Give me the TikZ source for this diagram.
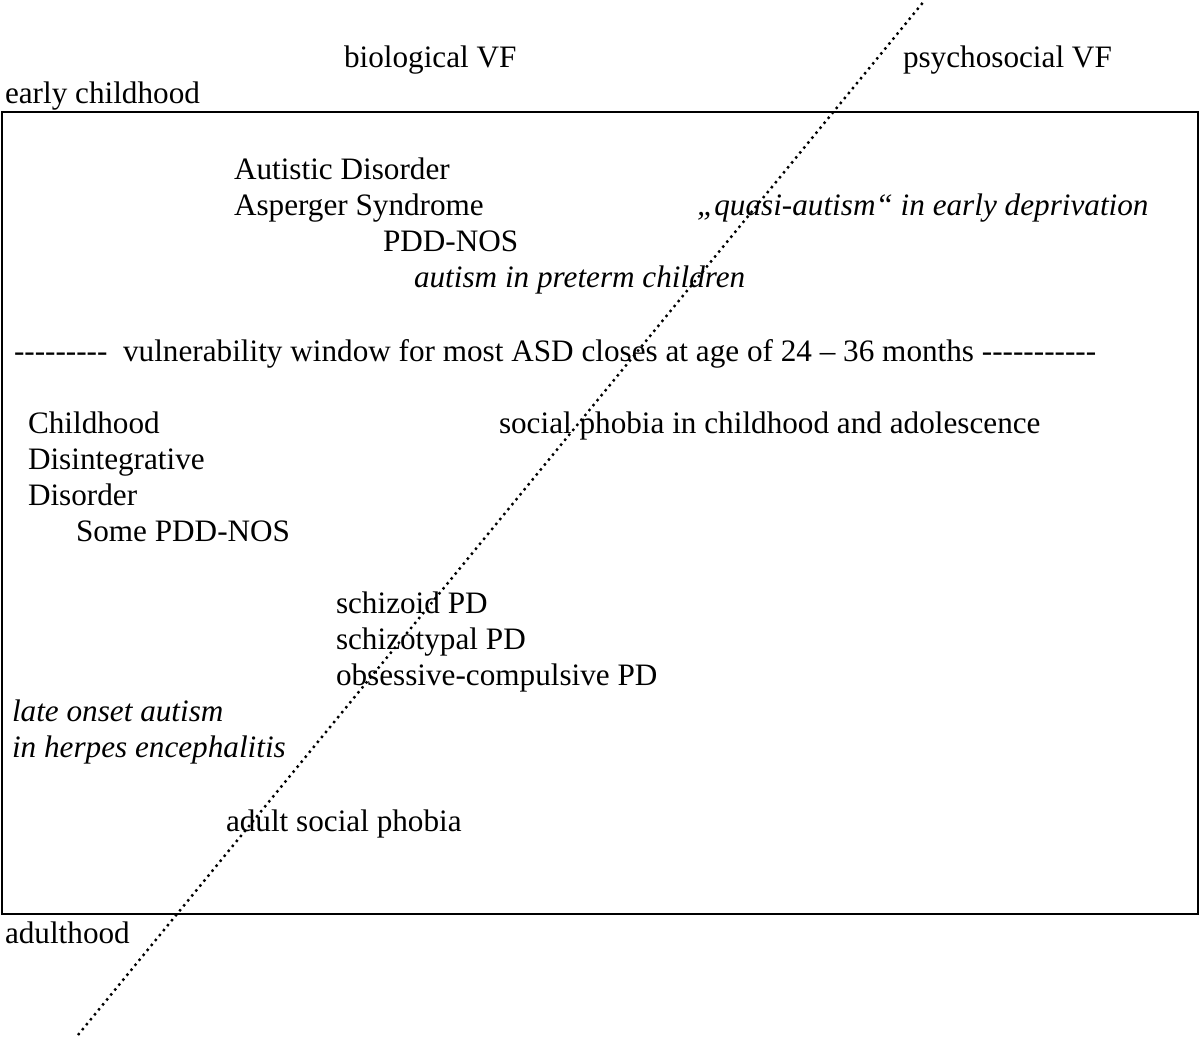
\documentclass[tikz,border=0pt]{standalone}
\usepackage{fontspec}
\setmainfont{Liberation Serif}
\begin{document}
\begin{tikzpicture}[x=0.5pt,y=-0.5pt,inner sep=0pt,outer sep=0pt,
  lbl/.style={anchor=base west,font=\fontsize{15.6}{18}\selectfont},
  ital/.style={lbl,font=\fontsize{15.6}{18}\selectfont\itshape}]
\useasboundingbox (0,0) rectangle (1200,1040);
\draw[line width=0.6pt] (2,112) rectangle (1198,914);
\coordinate (lowend) at (78,1035);
\coordinate (highend) at (925,0);
\draw[dotted,line width=1.2pt] (lowend) -- (highend);
\path (344,67) node[lbl] (biovf) {biological VF};
\path (903,67) node[lbl] (psyvf) {psychosocial VF};
\path (5,103) node[lbl] (early) {early childhood};
\path (234,179) node[lbl] (autdis) {Autistic Disorder};
\path (234,215) node[lbl] (asperger) {Asperger Syndrome};
\path (697,215) node[ital] (quasi) {„quasi-autism“ in early deprivation};
\path (383,251) node[lbl] (pddnos) {PDD-NOS};
\path (414,287) node[ital] (preterm) {autism in preterm children};
\path (14,361) node[lbl] (window) {{-}{-}{-}{-}{-}{-}{-}{-}{-}\ \ vulnerability window for most ASD closes at age of 24 – 36 months {-}{-}{-}{-}{-}{-}{-}{-}{-}{-}{-}};
\path (28,433) node[lbl] (cdd1) {Childhood};
\path (28,469) node[lbl] (cdd2) {Disintegrative};
\path (28,505) node[lbl] (cdd3) {Disorder};
\path (76,541) node[lbl] (somepdd) {Some PDD-NOS};
\path (499,433) node[lbl] (socchild) {social phobia in childhood and adolescence};
\path (336,613) node[lbl] (schizoid) {schizoid PD};
\path (336,649) node[lbl] (schizotyp) {schizotypal PD};
\path (336,685) node[lbl] (obscomp) {obsessive-compulsive PD};
\path (12,721) node[ital] (late1) {late onset autism};
\path (12,757) node[ital] (late2) {in herpes encephalitis};
\path (226,831) node[lbl] (adultsoc) {adult social phobia};
\path (5,943) node[lbl] (adult) {adulthood};
\end{tikzpicture}
\end{document}
